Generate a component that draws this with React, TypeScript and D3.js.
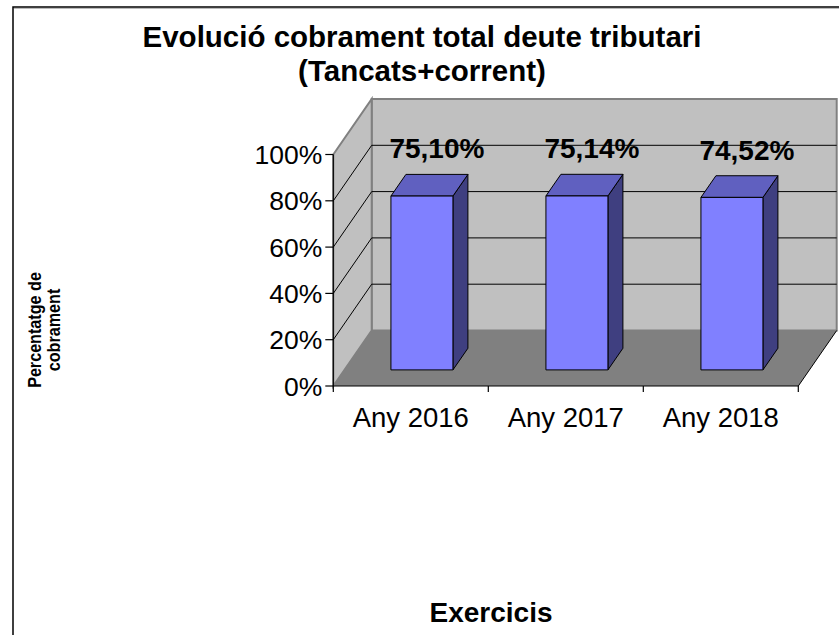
import React from "react";
import * as d3 from "d3";

const categories = ["Any 2016", "Any 2017", "Any 2018"];
const values = [75.1, 75.14, 74.52];
const valueLabels = ["75,10%", "75,14%", "74,52%"];
const yTicks = [0, 20, 40, 60, 80, 100];

const W = 839, H = 635;
const FONT = "'Liberation Sans', Arial, Helvetica, sans-serif";

// 3d depth offset of the plot box
const DX = 38.4, DY = -55.5;
// bars sit in this slice of the depth
const D0 = 0.29, D1 = 0.68;

function App() {
    const x = d3.scaleBand<string>()
        .domain(categories)
        .range([333.3, 798.3])
        .paddingInner(0)
        .paddingOuter(0);
    const y = d3.scaleLinear().domain([0, 100]).range([386, 154.5]);

    const p = (px: number, py: number, d: number) => [px + d * DX, py + d * DY];
    const poly = (pts: number[][]) => pts.map(q => q.join(",")).join(" ");

    const x0 = x.range()[0], x1 = x.range()[1];
    const yb = y(0), yt = y(100);

    const barW = x.bandwidth() * 0.4;

    return (
        <svg width={W} height={H} style={{ position: "fixed", left: 0, top: 0, background: "#fff" }}
            fontFamily={FONT}>
            {/* frame */}
            <rect x={13} y={7} width={W + 20} height={H + 20} fill="none" stroke="#000" strokeWidth={1.5} />
            <line x1={14} y1={8.5} x2={W} y2={8.5} stroke="#bbb" strokeWidth={1} />

            {/* title */}
            <text x={422} y={47} textAnchor="middle" fontWeight="bold" fontSize={29.5}>
                Evolució cobrament total deute tributari
            </text>
            <text x={422} y={81} textAnchor="middle" fontWeight="bold" fontSize={29.5}>
                (Tancats+corrent)
            </text>

            {/* back wall */}
            <polygon points={poly([p(x0, yb, 1), p(x1, yb, 1), p(x1, yt, 1), p(x0, yt, 1)])}
                fill="#c0c0c0" stroke="#808080" strokeWidth={2} />
            {/* side wall */}
            <polygon points={poly([p(x0, yb, 0), p(x0, yb, 1), p(x0, yt, 1), p(x0, yt, 0)])}
                fill="#c0c0c0" stroke="#808080" strokeWidth={2} />
            {/* floor */}
            <polygon points={poly([p(x0, yb, 0), p(x1, yb, 0), p(x1, yb, 1), p(x0, yb, 1)])}
                fill="#808080" />
            <line x1={x1} y1={yb} x2={p(x1, yb, 1)[0]} y2={p(x1, yb, 1)[1]} stroke="#000" strokeWidth={1} />

            {/* gridlines */}
            {yTicks.filter(t => t > 0 && t < 100).map(t => {
                const a = p(x0, y(t), 0), b = p(x0, y(t), 1), c = p(x1, y(t), 1);
                return (
                    <polyline key={t} points={poly([a, b, c])} fill="none" stroke="#000" strokeWidth={1} />
                );
            })}

            {/* y axis */}
            <line x1={x0} y1={yb} x2={x0} y2={yt} stroke="#000" strokeWidth={1.2} />
            {yTicks.map(t => (
                <g key={t}>
                    <line x1={x0 - 8} x2={x0} y1={y(t)} y2={y(t)} stroke="#000" strokeWidth={1.2} />
                    <text x={x0 - 11} y={y(t)} dy="0.36em" textAnchor="end" fontSize={26.5}>{t}%</text>
                </g>
            ))}

            {/* x axis */}
            <line x1={x0} y1={yb} x2={x1} y2={yb} stroke="#000" strokeWidth={1.2} />
            {[...categories.map(c => x(c)!), x1].map((v, i) => (
                <line key={i} x1={v} x2={v} y1={yb} y2={yb + 6} stroke="#000" strokeWidth={1.2} />
            ))}
            {categories.map(c => (
                <text key={c} x={x(c)! + x.bandwidth() / 2} y={426.5} textAnchor="middle" fontSize={27.5}>{c}</text>
            ))}

            {/* bars */}
            {categories.map((c, i) => {
                const l = x(c)! + (x.bandwidth() - barW) / 2;
                const r = l + barW;
                const top = y(values[i]);
                const f = [p(l, yb, D0), p(r, yb, D0), p(r, top, D0), p(l, top, D0)];
                const tp = [p(l, top, D0), p(r, top, D0), p(r, top, D1), p(l, top, D1)];
                const sd = [p(r, yb, D0), p(r, yb, D1), p(r, top, D1), p(r, top, D0)];
                const lab = p(l + barW / 2, top, D1);
                return (
                    <g key={c} stroke="#000" strokeWidth={1} strokeLinejoin="round">
                        <polygon points={poly(sd)} fill="#3f3f80" />
                        <polygon points={poly(tp)} fill="#6060c0" />
                        <polygon points={poly(f)} fill="#8080ff" />
                        <text x={lab[0]} y={lab[1] - 16} textAnchor="middle" fontWeight="bold"
                            fontSize={28} stroke="none" fill="#000">{valueLabels[i]}</text>
                    </g>
                );
            })}

            {/* axis titles */}
            <text transform="translate(41,330) rotate(-90) scale(0.85,1)" textAnchor="middle" fontWeight="bold" fontSize={19}>
                Percentatge de
            </text>
            <text transform="translate(60,330) rotate(-90) scale(0.85,1)" textAnchor="middle" fontWeight="bold" fontSize={19}>
                cobrament
            </text>
            <text x={491} y={621.5} textAnchor="middle" fontWeight="bold" fontSize={28}>Exercicis</text>
        </svg>
    );
}

export default App;
